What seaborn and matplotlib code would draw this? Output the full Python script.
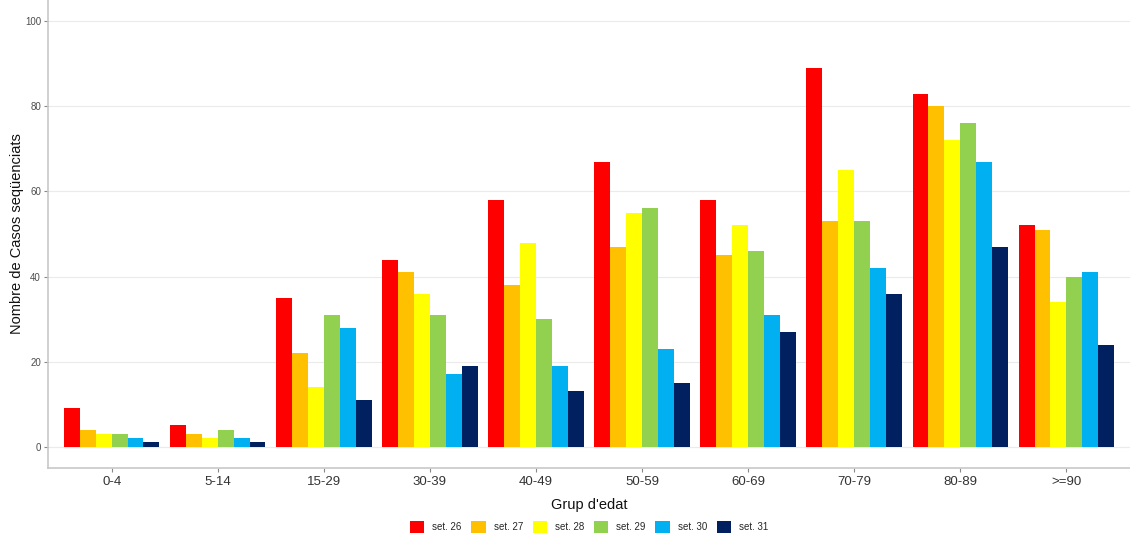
import pandas as pd
import numpy as np
import matplotlib.pyplot as plt
import seaborn as sns

# --------------------------------------------
# Data
# --------------------------------------------
groups = ['0-4', '5-14', '15-29', '30-39', '40-49', '50-59',
          '60-69', '70-79', '80-89', '>=90']
weeks = ['set. 26', 'set. 27', 'set. 28', 'set. 29', 'set. 30', 'set. 31']

set26 = [9, 5, 35, 44, 58, 67, 58, 89, 83, 52]
set27 = [4, 3, 22, 41, 38, 47, 45, 53, 80, 51]
set28 = [3, 2, 14, 36, 48, 55, 52, 65, 72, 34]
set29 = [3, 4, 31, 31, 30, 56, 46, 53, 76, 40]
set30 = [2, 2, 28, 17, 19, 23, 31, 42, 67, 41]
set31 = [1, 1, 11, 19, 13, 15, 27, 36, 47, 24]

colors = ['#FF0000', '#FFC000', '#FFFF00', '#92D050', '#00B0F0', '#002060']

series = [set26, set27, set28, set29, set30, set31]
df = pd.DataFrame({
    'Grup': np.tile(groups, len(weeks)),
    'Setmana': np.repeat(weeks, len(groups)),
    'Casos': np.concatenate(series)
})

# --------------------------------------------
# Plot
# --------------------------------------------
sns.set_style('white')
plt.rcParams['font.family'] = ['Liberation Sans', 'DejaVu Sans']

fig = plt.figure(figsize=(11.3, 5.4), dpi=100)
ax = fig.add_axes([48 / 1130, 72 / 540, 1082 / 1130, 468 / 540])

sns.barplot(data=df, x='Grup', y='Casos', hue='Setmana', order=groups,
            hue_order=weeks, palette=colors, width=0.9, saturation=1,
            linewidth=0, edgecolor='none', ax=ax, zorder=2)

ax.set_ylim(-5, 105)
ax.set_xlim(-0.6, len(groups) - 0.4)
ax.set_yticks([0, 20, 40, 60, 80, 100])
ax.yaxis.grid(True, color='#ebebeb', linewidth=0.8, zorder=0)
ax.xaxis.grid(False)

for s in ['top', 'right']:
    ax.spines[s].set_visible(False)
for s in ['left', 'bottom']:
    ax.spines[s].set_color('#c8c8c8')
    ax.spines[s].set_linewidth(1.2)

ax.tick_params(axis='y', labelsize=7, labelcolor='#4d4d4d', length=3,
               color='#888888', left=True, pad=2)
ax.tick_params(axis='x', labelsize=9.5, labelcolor='#333333', length=3,
               color='#888888', bottom=True, pad=3)

ax.set_xlabel("Grup d'edat", fontsize=10.5, color='#111111', labelpad=7)
ax.set_ylabel('Nombre de Casos seqüenciats', fontsize=10.5,
              color='#111111')
ax.yaxis.set_label_coords(-0.022, 0.5)

ax.legend(loc='upper center', bbox_to_anchor=(0.5, -0.095), ncol=6,
          frameon=False, fontsize=7, handlelength=1.5, handleheight=1.5,
          columnspacing=1.0, handletextpad=0.8, title=None)

plt.savefig('out.png', dpi=100)
